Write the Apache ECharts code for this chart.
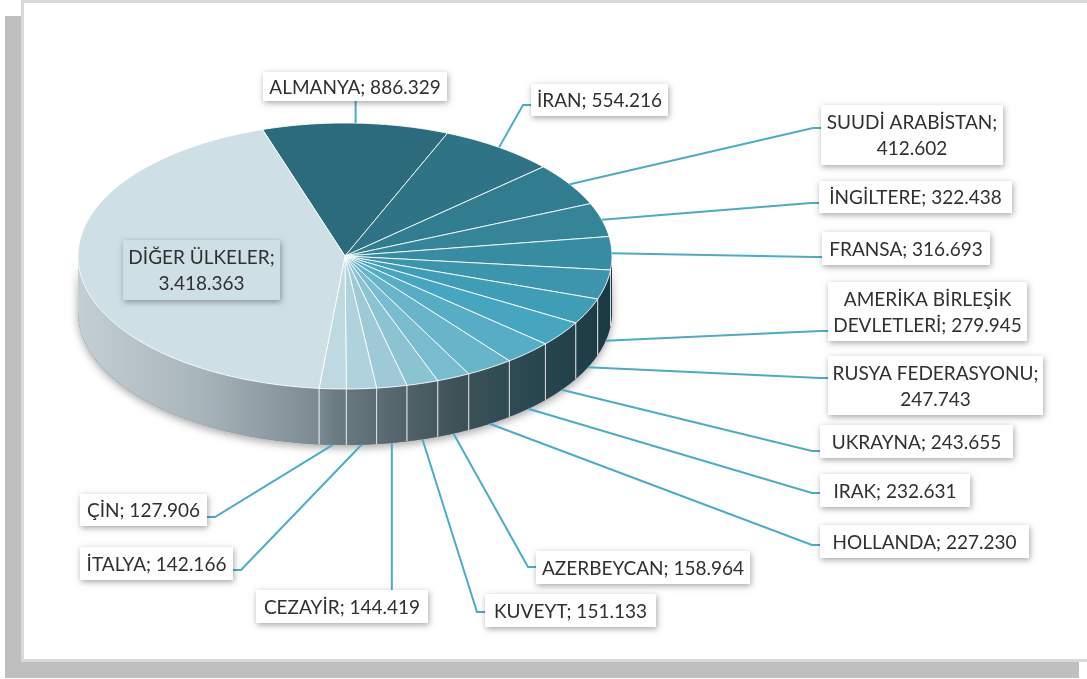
<!DOCTYPE html>
<html><head><meta charset="utf-8">
<script src="https://cdn.jsdelivr.net/npm/echarts@6/dist/echarts.min.js"></script>
<style>html,body{margin:0;padding:0;background:#fff;overflow:hidden}#c{width:1087px;height:679px}</style>
</head><body><div id="c"></div>
<script>
// ---- data ----
const categories = ['ALMANYA','İRAN','SUUDİ ARABİSTAN','İNGİLTERE','FRANSA','AMERİKA BİRLEŞİK DEVLETLERİ','RUSYA FEDERASYONU','UKRAYNA','IRAK','HOLLANDA','AZERBEYCAN','KUVEYT','CEZAYİR','İTALYA','ÇİN','DİĞER ÜLKELER'];
const values = [886329,554216,412602,322438,316693,279945,247743,243655,232631,227230,158964,151133,144419,142166,127906,3418363];

// ---- styles / layout ----
const palette = ['#2c6b7c','#2f7486','#327c8f','#358498','#388ca2','#3c95ac','#409db6','#46a5bf','#57adc5','#68b4c9','#7abccf','#8cc3d3','#9ecad8','#afd2dc','#bfd9e1','#cfdfe6'];
const CX = 345, CY = 256, RX = 267, RY = 133, DEPTH = 56, START = -18;
// label boxes: [x, y, w, h], edge where the leader enters, attach coord, words on first line
const labelLayout = [
  {box:[263,72,184,29], edge:'B'},
  {box:[531,84,137,32], edge:'L', ey:105},
  {box:[821,105,182,60], edge:'L', ey:128, brk:2},
  {box:[819,181,193,32], edge:'L', ey:203},
  {box:[822,232,168,33], edge:'L', ey:257},
  {box:[828,282,199,59], edge:'L', ey:331, brk:2},
  {box:[828,356,215,59], edge:'L', ey:378, brk:2},
  {box:[820,425,193,33], edge:'L', ey:451},
  {box:[820,474,150,33], edge:'L', ey:493},
  {box:[820,525,209,33], edge:'L', ey:545},
  {box:[536,551,214,33], edge:'L', ey:567},
  {box:[485,594,171,33], edge:'L', ey:612},
  {box:[256,590,172,33], edge:'T'},
  {box:[80,547,153,33], edge:'R', ey:570},
  {box:[80,494,127,32], edge:'R', ey:517},
  {box:[123,240,157,60], edge:null, brk:2, fill:true}
];

const fmt = v => String(v).replace(/\B(?=(\d{3})+(?!\d))/g, '.');
function labelText(i){
  const words = (categories[i] + '; ' + fmt(values[i])).split(' ');
  const b = labelLayout[i].brk;
  if (!b) return words.join(' ');
  return words.slice(0,b).join(' ') + '\n' + words.slice(b).join(' ');
}
function pt(deg, dy){ const r = deg*Math.PI/180; return [CX + RX*Math.sin(r), CY - RY*Math.cos(r) + (dy||0)]; }
function arc(a0, a1, dy){
  const n = Math.max(2, Math.ceil(Math.abs(a1-a0)));
  const p = [];
  for (let k=0;k<=n;k++) p.push(pt(a0 + (a1-a0)*k/n, dy));
  return p;
}

const chart = echarts.init(document.getElementById('c'), null, {renderer:'canvas'});
const wallGrad = new echarts.graphic.LinearGradient(CX-RX, 0, CX+RX, 0, [
  {offset:0, color:'#c4cfd4'},
  {offset:0.23, color:'#a8b5bb'},
  {offset:0.45, color:'#7b8a91'},
  {offset:0.48, color:'#6c7c83'},
  {offset:0.59, color:'#56676e'},
  {offset:0.70, color:'#3f5359'},
  {offset:0.85, color:'#2a4850'},
  {offset:1, color:'#1a3a43'}
], true);

function renderItem(params, api){
  const i = params.dataIndex;
  const n = params.dataInsideLength;
  let tot = 0; for (let k=0;k<n;k++) tot += api.value(0, k);
  let acc = START; for (let k=0;k<i;k++) acc += api.value(0, k)/tot*360;
  const a0 = acc, a1 = acc + api.value(0)/tot*360;
  const children = [];
  if (i === 0){
    children.push({type:'polygon', z2:0, shape:{points: arc(90,270,0).concat(arc(270,90,DEPTH))},
      style:{fill:'#6c7c83', shadowBlur:8, shadowColor:'rgba(0,0,0,0.35)', shadowOffsetY:3}});
  }
  const w0 = Math.max(a0, 90), w1 = Math.min(a1, 270);
  if (w1 > w0){
    children.push({type:'polygon', z2:1, shape:{points: arc(w0,w1,0).concat(arc(w1,w0,DEPTH))}, style:{fill: wallGrad}});
    [a0, a1].forEach(a => {
      if (a > 90 && a < 270){
        const p = pt(a, 0);
        children.push({type:'line', z2:2, shape:{x1:p[0], y1:p[1], x2:p[0], y2:p[1]+DEPTH}, style:{stroke:'rgba(255,255,255,0.55)', lineWidth:1}});
      }
    });
  }
  children.push({type:'polygon', z2:3, shape:{points: [[CX,CY]].concat(arc(a0,a1,0))},
    style:{fill: palette[i], stroke:'rgba(255,255,255,0.85)', lineWidth:1}});
  // label
  const L = labelLayout[i];
  const [bx,by,bw,bh] = L.box;
  const mid = (a0+a1)/2;
  const front = Math.cos(mid*Math.PI/180) < 0;
  const anc = pt(mid, front ? DEPTH : 0);
  let pts = null;
  if (L.edge === 'L') pts = [anc, [bx-8, L.ey], [bx+1, L.ey]];
  else if (L.edge === 'R') pts = [anc, [bx+bw+8, L.ey], [bx+bw-1, L.ey]];
  else if (L.edge === 'B') pts = [anc, [anc[0], by+bh]];
  else if (L.edge === 'T') pts = [anc, [anc[0], by]];
  if (pts) children.push({type:'polyline', z2:4, shape:{points:pts}, style:{stroke:'#4bacc6', lineWidth:2, fill:null}});
  children.push({type:'rect', z2:5, shape:{x:bx, y:by, width:bw, height:bh},
    style:{fill: L.fill ? palette[i] : '#ffffff', shadowBlur:6, shadowColor:'rgba(0,0,0,0.35)', shadowOffsetX:1, shadowOffsetY:2}});
  children.push({type:'text', z2:6, style:{text: labelText(i), x: bx+bw/2, y: by+bh/2+1, align:'center', verticalAlign:'middle',
    fill:'#303030', font:'19px Lato', lineHeight:26}});
  return {type:'group', children};
}

chart.setOption({
  animation:false,
  graphic:[
    {type:'rect', z:-10, silent:true, shape:{x:5, y:16, width:1074, height:662}, style:{fill:'#bfbfbf'}},
    {type:'rect', z:-9, silent:true, shape:{x:22.5, y:1.5, width:1070, height:659}, style:{fill:'#ffffff', stroke:'#d9d9d9', lineWidth:3}}
  ],
  series:[{
    type:'custom',
    coordinateSystem:'none',
    renderItem: renderItem,
    data: values.map((v,i)=>({name:categories[i], value:[v]}))
  }]
});
</script></body></html>
